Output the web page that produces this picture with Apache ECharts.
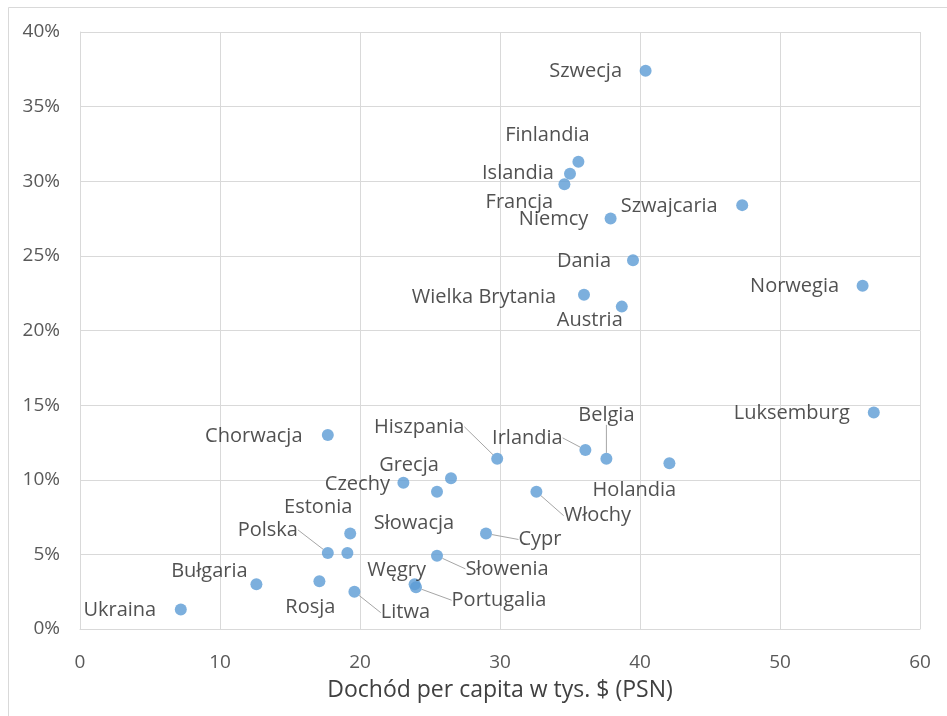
<!DOCTYPE html>
<html>
<head>
<meta charset="utf-8">
<script src="https://cdn.jsdelivr.net/npm/echarts@6/dist/echarts.min.js"></script>
<style>
  html, body { margin: 0; padding: 0; background: #fff; }
  #chart { width: 947px; height: 716px; }
</style>
</head>
<body>
<div id="chart"></div>
<script>
// kraje, dochód per capita (tys. $ PSN) i udział w % (oś Y)
const countries = ['Szwecja', 'Finlandia', 'Islandia', 'Francja', 'Niemcy', 'Szwajcaria', 'Dania', 'Norwegia',
    'Wielka Brytania', 'Austria', 'Luksemburg', 'Chorwacja', 'Hiszpania', 'Irlandia', 'Belgia', 'Holandia',
    'Włochy', 'Cypr', 'Słowenia', 'Portugalia', 'Węgry', 'Grecja', 'Czechy', 'Słowacja', 'Estonia', 'Polska',
    'Łotwa', 'Rosja', 'Litwa', 'Bułgaria', 'Ukraina'];
const income = [40.4, 35.6, 35.0, 34.6, 37.9, 47.3, 39.5, 55.9,
    36.0, 38.7, 56.7, 17.7, 29.8, 36.1, 37.6, 42.1,
    32.6, 29.0, 25.5, 24.0, 23.9, 26.5, 23.1, 25.5, 19.3, 17.7,
    19.1, 17.1, 19.6, 12.6, 7.2];
const share = [37.4, 31.3, 30.5, 29.8, 27.5, 28.4, 24.7, 23.0,
    22.4, 21.6, 14.5, 13.0, 11.4, 12.0, 11.4, 11.1,
    9.2, 6.4, 4.9, 2.8, 3.0, 10.1, 9.8, 9.2, 6.4, 5.1,
    5.1, 3.2, 2.5, 3.0, 1.3];
const xTicks = [0, 10, 20, 30, 40, 50, 60];
const yTicks = [0, 5, 10, 15, 20, 25, 30, 35, 40];

// przesunięcie środka etykiety względem punktu [dx, dy, linia]
const labelShift = {
    'Szwecja': [-60, 0], 'Finlandia': [-31, -27], 'Islandia': [-52, 0], 'Francja': [-45, 18],
    'Niemcy': [-57, 1], 'Szwajcaria': [-73, 1], 'Dania': [-49, 1], 'Norwegia': [-68, 1],
    'Wielka Brytania': [-100, 3], 'Austria': [-32, 14], 'Luksemburg': [-82, 1], 'Chorwacja': [-74, 1],
    'Hiszpania': [-78, -32, 1], 'Irlandia': [-58, -12, 1], 'Belgia': [0, -44, 1], 'Holandia': [-35, 27],
    'Włochy': [61, 24, 1], 'Cypr': [54, 6, 1], 'Słowenia': [70, 13, 1], 'Portugalia': [83, 13, 1],
    'Węgry': [-18, -14], 'Grecja': [-42, -13], 'Czechy': [-46, 2], 'Słowacja': [-23, 32],
    'Estonia': [-32, -26], 'Polska': [-60, -23, 1], 'Rosja': [-9, 26], 'Litwa': [51, 21, 1],
    'Bułgaria': [-47, -13], 'Ukraina': [-61, 1]
};

let chart = echarts.init(document.getElementById('chart'));

let points = countries.map(function (c, i) {
    let s = labelShift[c];
    return {
        name: c,
        value: [income[i], share[i]],
        label: {show: !!s},
        labelLine: {show: !!(s && s[2])}
    };
});

const axisText = {color: '#595959', fontSize: 19, fontFamily: 'Open Sans'};

let option = {
    animation: false,
    backgroundColor: '#fff',
    grid: {left: 80, right: 27, top: 32, bottom: 87},
    xAxis: {
        type: 'value', min: xTicks[0], max: xTicks[xTicks.length - 1], interval: 10,
        name: 'Dochód per capita w tys. $ (PSN)',
        nameLocation: 'middle', nameGap: 50,
        nameTextStyle: {color: '#404040', fontSize: 23, fontFamily: 'Open Sans'},
        axisLine: {show: true, lineStyle: {color: '#d9d9d9'}},
        axisTick: {show: false},
        splitLine: {show: true, lineStyle: {color: '#d9d9d9'}},
        axisLabel: Object.assign({margin: 24}, axisText)
    },
    yAxis: {
        type: 'value', min: yTicks[0], max: yTicks[yTicks.length - 1], interval: 5,
        axisLine: {show: true, lineStyle: {color: '#d9d9d9'}},
        axisTick: {show: false},
        splitLine: {show: true, lineStyle: {color: '#d9d9d9'}},
        axisLabel: Object.assign({margin: 20, formatter: '{value}%'}, axisText)
    },
    graphic: [{
        type: 'rect', left: 6, top: 5,
        shape: {width: 939, height: 709},
        style: {fill: 'none', stroke: '#d9d9d9', lineWidth: 1},
        silent: true
    }],
    series: [{
        type: 'scatter',
        symbolSize: 12,
        itemStyle: {color: '#5b9bd5'},
        label: {
            show: true, position: 'inside',
            formatter: '{b}',
            color: '#262626', fontSize: 20, fontFamily: 'Open Sans'
        },
        labelLine: {lineStyle: {color: '#a6a6a6', width: 1}},
        labelLayout: function (p) {
            let s = labelShift[countries[p.dataIndex]] || [0, 0];
            return {dx: s[0], dy: s[1]};
        },
        data: points
    }]
};

chart.setOption(option);
</script>
</body>
</html>
